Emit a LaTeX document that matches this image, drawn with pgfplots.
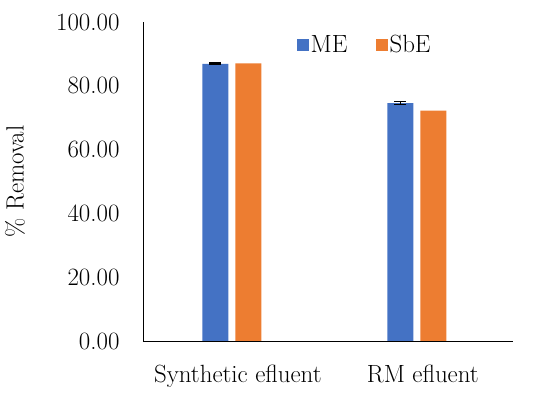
\documentclass[border=0pt]{standalone}
\usepackage{pgfplots}
\pgfplotsset{compat=1.18}
\definecolor{meblue}{HTML}{4472C4}
\definecolor{sborange}{HTML}{ED7D31}
\begin{document}
\begin{tikzpicture}
\begin{axis}[
  at={(0,0)}, anchor=south west,
  width=370bp, height=319bp, scale only axis,
  xmin=-0.48, xmax=1.52, ymin=0, ymax=100,
  axis lines*=left, axis line style={black, line width=0.8pt},
  xtick={0,1}, xticklabels={Synthetic efluent, RM efluent},
  ytick={0,20,40,60,80,100},
  major tick length=0pt,
  yticklabel={\pgfmathprintnumber[fixed,fixed zerofill,precision=2]{\tick}},
  /pgf/number format/assume math mode=true,
  ticklabel style={font=\fontsize{25}{30}\selectfont},
  yticklabel style={xshift=-20bp},
  xticklabel style={yshift=-20bp, xshift=6bp},
  ylabel={\% Removal},
  ylabel style={font=\fontsize{25}{30}\selectfont, at={(axis description cs:-0.346,0.5)}, anchor=center},
  ybar, bar width=26bp,
  legend style={draw=none, fill=none, at={(0.415,0.965)}, anchor=north west,
    font=\fontsize{25}{30}\selectfont, legend columns=2, inner sep=0pt,
    /tikz/every even column/.append style={column sep=26bp}},
  legend image code/.code={\fill[#1] (0bp,-6bp) rectangle (12bp,6bp);},
]
\addplot[fill=meblue, draw=none, bar shift=-16.5bp,
  error bars/.cd, y dir=both, y explicit,
  error bar style={black, line width=1pt}, error mark options={rotate=90, mark size=6bp, line width=1.5pt, black}]
  coordinates {(0,86.9) +- (0,0.3) (1,74.6) +- (0,0.5)};
\addplot[fill=sborange, draw=none, bar shift=16.5bp]
  coordinates {(0,87.0) (1,72.2)};
\legend{ME, SbE}
\end{axis}
\path (0,0) ++(-143bp,-53bp) rectangle ++(550bp,394bp);
\end{tikzpicture}
\end{document}
